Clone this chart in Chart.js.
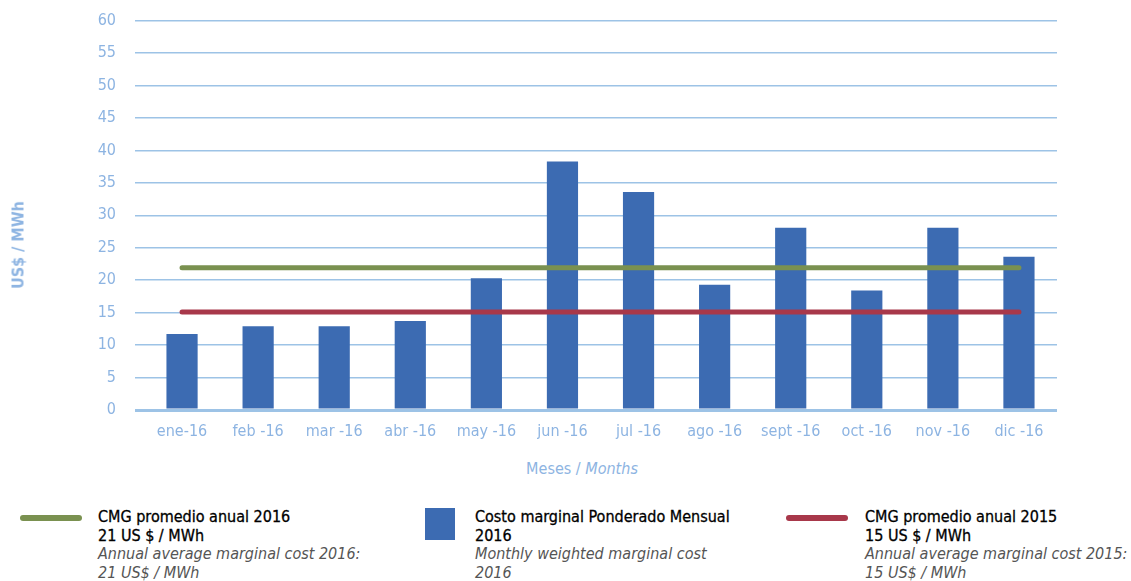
<!DOCTYPE html>
<html>
<head>
<meta charset="utf-8">
<script src="https://cdn.jsdelivr.net/npm/chart.js@4"></script>
<style>
  body { margin: 0; background: #fff; font-family: "Liberation Sans Narrow", "DejaVu Sans Condensed", sans-serif; }
  #wrap { position: relative; width: 1131px; height: 581px; overflow: hidden; }
  #cv { position: absolute; left: 0; top: -8px; }
  .ytitle { position: absolute; left: 18px; top: 245px; transform: translate(-50%, -50%) rotate(-90deg); color: #8db4e2; font-size: 16px; font-weight: bold; white-space: nowrap; }
  .xtitle { position: absolute; left: 582px; top: 468px; transform: translate(-50%, -50%); color: #8db4e2; font-size: 16px; white-space: nowrap; }
  .leg { position: absolute; top: 508px; font-size: 16px; line-height: 18.5px; color: #000; white-space: nowrap; -webkit-text-stroke: 0.3px #000; }
  .leg i { color: #555; display: block; -webkit-text-stroke: 0; }
  .sw { position: absolute; }
</style>
</head>
<body>
<div id="wrap">
  <canvas id="cv" width="1131" height="458"></canvas>
  <div class="ytitle">US$ / MWh</div>
  <div class="xtitle">Meses / <i>Months</i></div>

  <div class="sw" style="left:20px;top:515px;width:62px;height:6px;border-radius:3px;background:#7a9150"></div>
  <div class="leg" style="left:98px">CMG promedio anual 2016<br>21 US $ / MWh<i>Annual average marginal cost 2016:<br>21 US$ / MWh</i></div>

  <div class="sw" style="left:425px;top:508px;width:30px;height:32px;background:#3c6bb2"></div>
  <div class="leg" style="left:475px">Costo marginal Ponderado Mensual<br>2016<i>Monthly weighted marginal cost<br>2016</i></div>

  <div class="sw" style="left:786px;top:515px;width:62px;height:6px;border-radius:3px;background:#a8384a"></div>
  <div class="leg" style="left:865px">CMG promedio anual 2015<br>15 US $ / MWh<i>Annual average marginal cost 2015:<br>15 US$ / MWh</i></div>
</div>
<script>
// meses
const meses = ["ene-16", "feb -16", "mar -16", "abr -16", "may -16", "jun -16",
               "jul -16", "ago -16", "sept -16", "oct -16", "nov -16", "dic -16"];

// costo marginal ponderado mensual 2016 (US$/MWh)
const costoMensual = [11.7, 12.9, 12.9, 13.7, 20.3, 38.3, 33.6, 19.3, 28.1, 18.4, 28.1, 23.6];

// promedios anuales
const promedio2016 = 21.9;
const promedio2015 = 15.1;

const azulTexto = "#8db4e2";
const azulGrid = "#9dc3e6";
const fuente = "'Liberation Sans Narrow', 'DejaVu Sans Condensed', sans-serif";

new Chart(document.getElementById("cv"), {
  type: "bar",
  data: {
    labels: meses,
    datasets: [
      {
        type: "line",
        label: "CMG promedio anual 2016",
        data: meses.map(() => promedio2016),
        borderColor: "#7a9150",
        borderWidth: 5,
        borderCapStyle: "round",
        pointRadius: 0,
        order: 0
      },
      {
        type: "line",
        label: "CMG promedio anual 2015",
        data: meses.map(() => promedio2015),
        borderColor: "#a8384a",
        borderWidth: 5,
        borderCapStyle: "round",
        pointRadius: 0,
        order: 0
      },
      {
        label: "Costo marginal Ponderado Mensual 2016",
        data: costoMensual,
        backgroundColor: "#3c6bb2",
        barPercentage: 0.82,
        categoryPercentage: 0.5,
        order: 1
      }
    ]
  },
  options: {
    responsive: false,
    animation: false,
    layout: { padding: { top: 12, right: 74, left: 0, bottom: 0 } },
    plugins: {
      legend: { display: false },
      tooltip: { enabled: false }
    },
    scales: {
      x: {
        grid: { display: false, drawTicks: false },
        border: { display: false },
        ticks: { color: azulTexto, font: { family: fuente, size: 16 }, padding: 12, maxRotation: 0 },
        afterFit: s => { s.height = 40; }
      },
      y: {
        min: 0,
        max: 60,
        ticks: { stepSize: 5, color: azulTexto, font: { family: fuente, size: 16 }, padding: 19 },
        grid: {
          drawTicks: true,
          tickLength: 9,
          tickColor: azulGrid,
          color: azulGrid,
          lineWidth: ctx => ctx.tick && ctx.tick.value === 0 ? 3 : 1.5
        },
        border: { display: false },
        afterFit: s => { s.width = 144; }
      }
    }
  }
});
</script>
</body>
</html>
